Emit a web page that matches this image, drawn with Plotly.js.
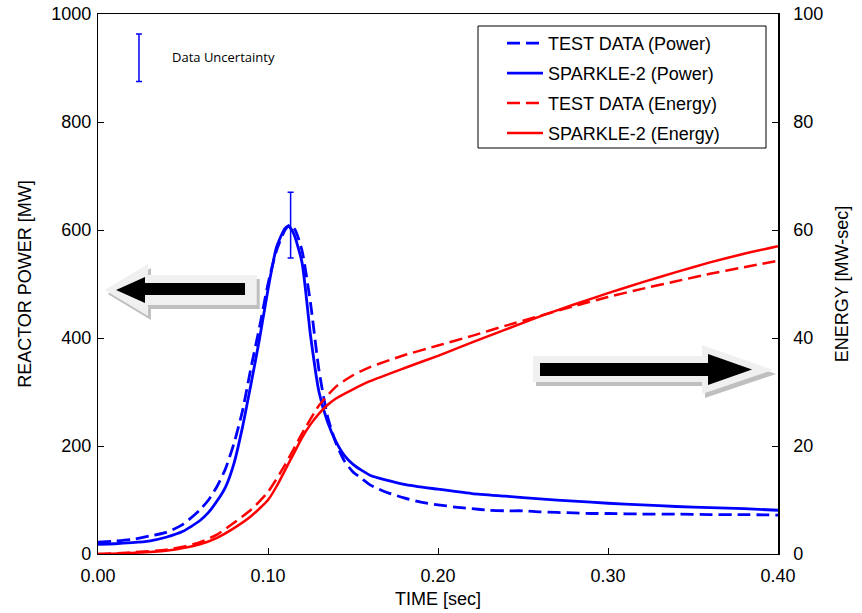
<!DOCTYPE html>
<html>
<head>
<meta charset="utf-8">
<script src="https://cdn.plot.ly/plotly-3.0.1.min.js"></script>
<style>html,body{margin:0;padding:0;background:#fff;}#chart{width:862px;height:613px;}</style>
</head>
<body>
<div id="chart"></div>
<script>
// ---- data ----
const powerCalcTime = [0, 0.01, 0.02, 0.03, 0.04, 0.05, 0.06, 0.065, 0.07, 0.075, 0.08, 0.085, 0.09, 0.095, 0.1, 0.105, 0.11, 0.112, 0.115, 0.12, 0.125, 0.13, 0.135, 0.14, 0.145, 0.15, 0.16, 0.18, 0.2, 0.22, 0.24, 0.26, 0.28, 0.3, 0.32, 0.34, 0.36, 0.38, 0.4];
const powerCalc = [18, 19, 21, 24, 31, 42, 62, 77, 98, 124, 168, 235, 315, 398, 490, 568, 603, 607, 594, 540, 405, 300, 245, 208, 182, 166, 146, 129, 120, 112, 107, 102, 98, 94, 91, 88, 86, 84, 81];

const powerTestTime = [0, 0.01, 0.02, 0.03, 0.04, 0.05, 0.06, 0.065, 0.07, 0.075, 0.08, 0.085, 0.09, 0.095, 0.1, 0.105, 0.11, 0.113, 0.116, 0.12, 0.125, 0.13, 0.135, 0.14, 0.145, 0.15, 0.155, 0.16, 0.17, 0.18, 0.19, 0.2, 0.21, 0.22, 0.23, 0.24, 0.25, 0.26, 0.27, 0.28, 0.29, 0.3, 0.32, 0.34, 0.36, 0.38, 0.4];
const powerTest = [22, 24, 27, 33, 40, 55, 82, 100, 125, 158, 205, 265, 345, 420, 500, 562, 600, 610, 600, 562, 465, 340, 255, 205, 172, 152, 140, 128, 114, 104, 96, 91, 87, 84, 81, 80, 80, 78, 77, 76, 75, 75, 74, 74, 73, 73, 72];

const energyCalcTime = [0, 0.02, 0.04, 0.05, 0.06, 0.07, 0.08, 0.09, 0.1, 0.105, 0.11, 0.115, 0.12, 0.125, 0.13, 0.135, 0.14, 0.15, 0.16, 0.18, 0.2, 0.22, 0.24, 0.26, 0.28, 0.3, 0.32, 0.34, 0.36, 0.38, 0.4];
const energyCalc = [0, 0.2, 0.6, 1.1, 1.8, 3.0, 4.8, 7.0, 10, 12.5, 15.5, 18.5, 21.5, 24, 26, 27.6, 28.8, 30.5, 32.0, 34.4, 36.7, 39.2, 41.6, 44.0, 46.2, 48.3, 50.3, 52.2, 54.0, 55.6, 57.0];

const energyTestTime = [0, 0.02, 0.04, 0.05, 0.06, 0.07, 0.08, 0.09, 0.1, 0.11, 0.12, 0.13, 0.14, 0.15, 0.16, 0.18, 0.2, 0.22, 0.24, 0.26, 0.28, 0.3, 0.32, 0.34, 0.36, 0.38, 0.4];
const energyTest = [0, 0.3, 0.8, 1.35, 2.2, 3.6, 5.8, 8.2, 11.5, 16.5, 22.3, 27.5, 31, 33.1, 34.6, 36.8, 38.6, 40.4, 42.3, 44.1, 45.9, 47.6, 49.1, 50.5, 51.9, 53.1, 54.3];

const peakErrTime = [0.1133];
const peakErrValue = [609];
const peakErrSize = [61];
const keyErrTime = [0.0241];
const keyErrValue = [919];
const keyErrSize = [44];

const seriesNames = ['TEST DATA (Power)', 'SPARKLE-2 (Power)', 'TEST DATA (Energy)', 'SPARKLE-2 (Energy)'];
const xTickVals = [0, 0.1, 0.2, 0.3, 0.4];
const xTickText = ['0.00', '0.10', '0.20', '0.30', '0.40'];

// ---- layout helpers ----
const L = 98, R = 778, T = 14, B = 554;
function px(X){ return (X - L) / (R - L); }
function py(Y){ return (B - Y) / (B - T); }
function pp(X, Y){ return px(X).toFixed(4) + ',' + py(Y).toFixed(4); }
function poly(pts, dx, dy){ return 'M' + pts.map(p => pp(p[0] + (dx||0), p[1] + (dy||0))).join(' L') + ' Z'; }

const leftOuter = [[104.7,290],[148,264],[148,275],[256.7,275],[256.7,305],[148,305],[148,316]];
const leftInner = [[116,290],[145,277],[145,283],[245,283],[245,295],[145,295],[145,303]];
const rightOuter = [[533,356],[702,356],[702,345],[773,370],[702,394],[702,382],[533,382]];
const rightInner = [[540,363],[708,363],[708,354],[752,369.5],[708,385],[708,376],[540,376]];

function arrowShapes(outer, inner){
  return [
    {type:'path', xref:'paper', yref:'paper', path: poly(outer, 3, 4), fillcolor:'#bfbfbf', line:{width:0}, layer:'below'},
    {type:'path', xref:'paper', yref:'paper', path: poly(outer), fillcolor:'#f0f0f0', line:{width:0}, layer:'below'},
    {type:'path', xref:'paper', yref:'paper', path: poly(inner), fillcolor:'#000000', line:{width:0}, layer:'below'}
  ];
}

const legendBox = {type:'rect', xref:'paper', yref:'paper', x0: px(478), x1: px(766), y0: py(148), y1: py(26),
                   fillcolor:'#ffffff', line:{color:'#000', width:1}, layer:'above'};

const BLUE = '#0000ff', RED = '#ff0000';
const DASH = '13px,6px';

const traces = [
  {x: powerTestTime, y: powerTest, name: seriesNames[0], legendgroup:'a', mode:'lines', line:{color:BLUE, width:2.8, dash:DASH, shape:'spline', smoothing:0.6}},
  {x: powerCalcTime, y: powerCalc, name: seriesNames[1], legendgroup:'b', mode:'lines', line:{color:BLUE, width:2.8, shape:'spline', smoothing:0.6}},
  {x: energyTestTime, y: energyTest, name: seriesNames[2], legendgroup:'c', yaxis:'y2', mode:'lines', line:{color:RED, width:2.5, dash:DASH, shape:'spline', smoothing:0.6}},
  {x: energyCalcTime, y: energyCalc, name: seriesNames[3], legendgroup:'d', yaxis:'y2', mode:'lines', line:{color:RED, width:2.5, shape:'spline', smoothing:0.6}},
  {x: peakErrTime, y: peakErrValue, mode:'markers', marker:{size:1, opacity:0}, showlegend:false, hoverinfo:'skip',
   error_y:{type:'data', array: peakErrSize, visible:true, color:BLUE, thickness:1.5, width:3}},
  {x: keyErrTime, y: keyErrValue, mode:'markers', marker:{size:1, opacity:0}, showlegend:false, hoverinfo:'skip',
   error_y:{type:'data', array: keyErrSize, visible:true, color:BLUE, thickness:1.5, width:3}}
];

const tickFont = {family:'Liberation Sans, Arial, sans-serif', size:18, color:'#000'};

const layout = {
  width: 862, height: 613,
  margin: {l: L, r: 862 - R, t: T, b: 613 - B},
  paper_bgcolor:'#fff', plot_bgcolor:'#fff',
  showlegend: true,
  font: tickFont,
  xaxis: {range:[0,0.4], tickvals: xTickVals, ticktext: xTickText, ticks:'inside', ticklen:6, tickcolor:'#000',
          showline:true, linecolor:'#000', linewidth:1.2, mirror:true, showgrid:false, zeroline:false, ticklabelstandoff: 5,
          tickfont: tickFont, title:{text:'TIME [sec]', font: tickFont, standoff: 7}},
  yaxis: {range:[0,1000], dtick:200, ticks:'inside', ticklen:6, tickcolor:'#000', showline:true, linecolor:'#000', linewidth:1.2,
          showgrid:false, zeroline:false, tickfont: tickFont, ticklabelstandoff: 2, title:{text:'REACTOR POWER [MW]', font: tickFont, standoff: 14}},
  yaxis2: {range:[0,100], dtick:20, overlaying:'y', side:'right', ticks:'inside', ticklen:6, tickcolor:'#000', showline:true,
           linecolor:'#000', linewidth:1.6, showgrid:false, zeroline:false, tickfont: tickFont, ticklabelstandoff: 10,
           title:{text:'ENERGY [MW-sec]', font: tickFont, standoff: 13}},
  legend: {x: px(478), y: py(25), xanchor:'left', yanchor:'top', bgcolor:'rgba(0,0,0,0)', borderwidth:0,
           font:{family:'Liberation Sans, Arial, sans-serif', size:18, color:'#000'}, tracegroupgap: 3.5, traceorder:'grouped',
           indentation: 24, itemwidth: 36},
  annotations: [
    {xref:'paper', yref:'paper', x: px(170), y: py(57), xanchor:'left', yanchor:'middle', showarrow:false,
     text:'Data Uncertainty', font:{family:'Open Sans, Liberation Sans, sans-serif', size:13, color:'#000'}}
  ],
  shapes: [].concat(arrowShapes(leftOuter, leftInner), arrowShapes(rightOuter, rightInner), [legendBox])
};

Plotly.newPlot('chart', traces, layout, {displayModeBar:false, staticPlot:true});
</script>
</body>
</html>
